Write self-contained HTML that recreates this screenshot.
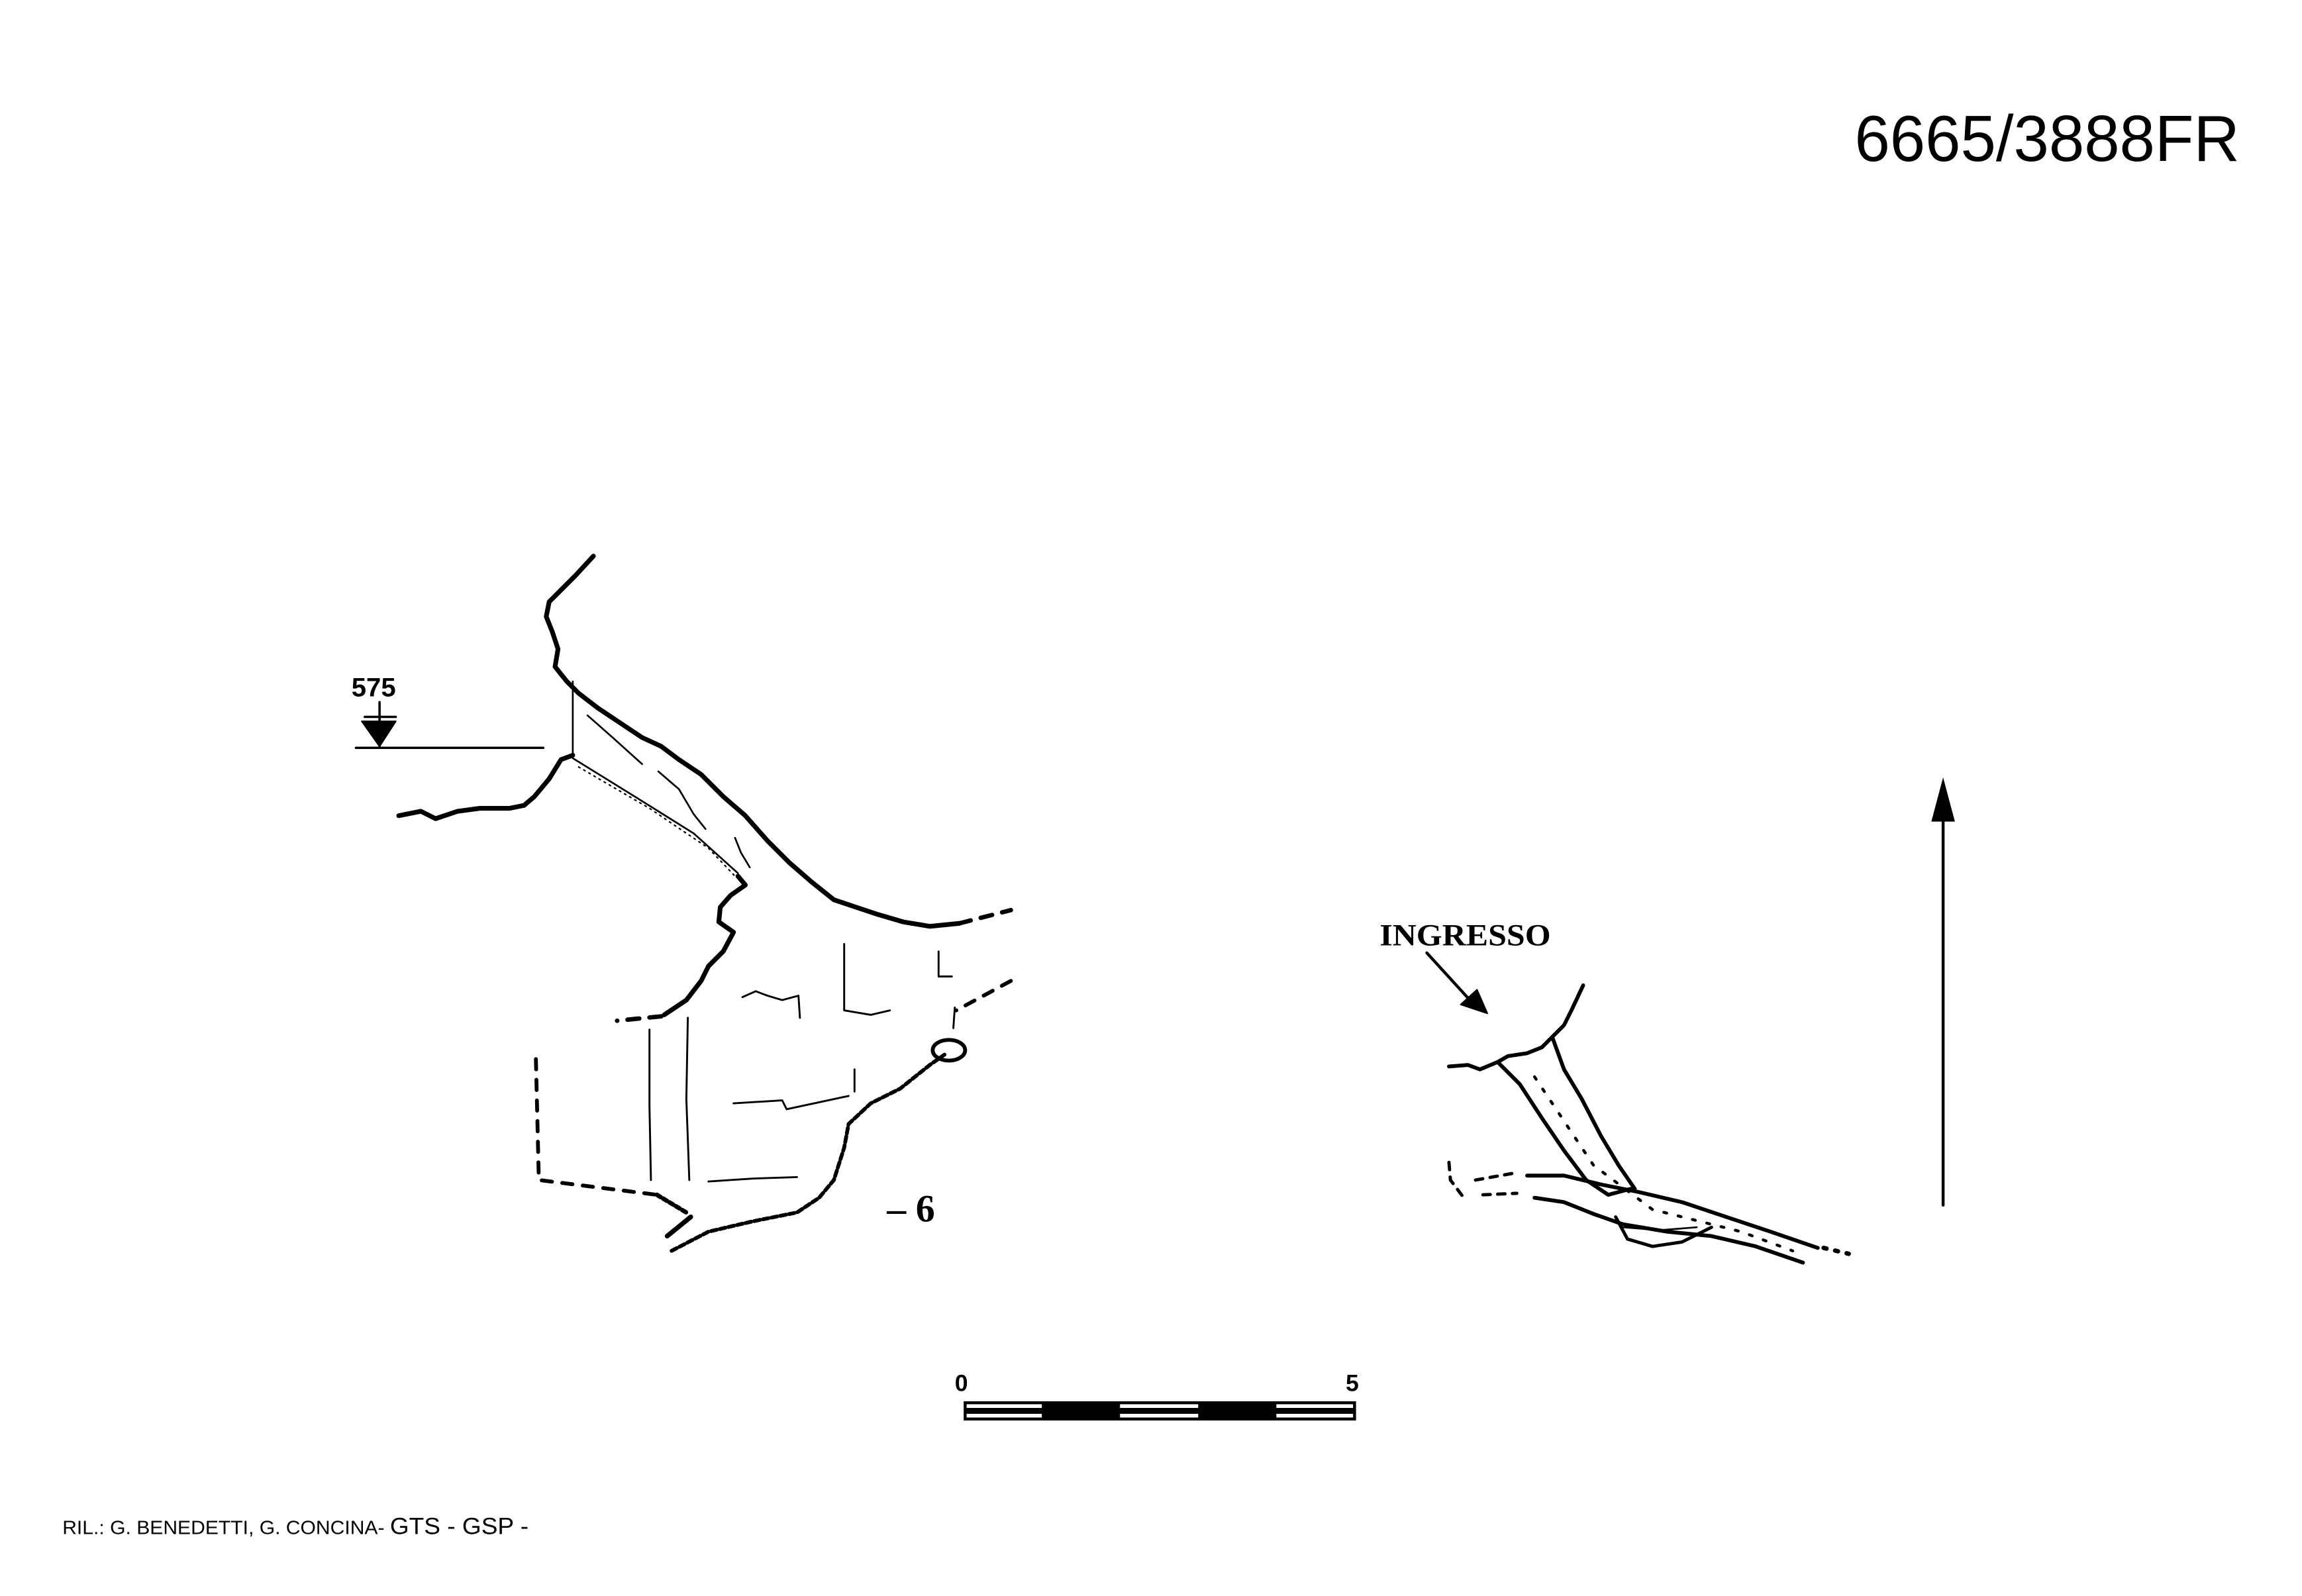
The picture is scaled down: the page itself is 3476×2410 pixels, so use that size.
<!DOCTYPE html>
<html><head><meta charset="utf-8"><style>
html,body{margin:0;padding:0;background:#fff;}
svg{display:block;}
</style></head><body>
<svg width="3476" height="2410" viewBox="0 0 1560 1082" xmlns="http://www.w3.org/2000/svg">
<rect width="1560" height="1082" fill="#fff"/>
<text x="1257" y="109" font-family="Liberation Sans, sans-serif" font-size="44" textLength="261" lengthAdjust="spacingAndGlyphs" fill="#000">6665/3888FR</text>
<g fill="none" stroke="#000" stroke-linecap="round" stroke-linejoin="round">
<polyline stroke-width="3.2" points="402,377 390,390 380,400 372,408 370,418 374,428 378,440 376,452 384,462 392,470 405,480 420,490 435,500 448,506 460,515 475,525 490,540 505,553 520,570 535,585 550,598 565,610 580,615 595,620 612,625 630,628 650,626"/>
<polyline stroke-width="3" stroke-dasharray="8,7" points="650,626 685,617"/>
<polyline stroke-width="3.2" points="270,553 285,550 295,555 310,550 325,548 345,548 355,546 362,540 372,528 380,515 388,512"/>
<polyline stroke-width="1.2" points="388,462 388,512"/>
<polyline stroke-width="1.2" points="388,514 430,540 470,565 500,592"/>
<polyline stroke-width="1" stroke-dasharray="1,3" points="392,520 440,548 480,575 498,594"/>
<polyline stroke-width="3.2" points="500,594 505,600 495,607 488,615 487,625 497,632 490,645 480,655 475,665 465,678 450,688"/>
<polyline stroke-width="3" stroke-dasharray="8,7" points="448,689 418,692"/>
<polyline stroke-width="1.2" points="398,485 415,500 435,518"/>
<polyline stroke-width="1.2" points="446,523 460,535 470,552 478,562"/>
<polyline stroke-width="1.2" points="498,568 502,578 508,588"/>
<polyline stroke-width="1.3" points="440,698 440,750 441,800"/>
<polyline stroke-width="1.3" points="466,690 465,745 467,800"/>
<polyline stroke-width="2.6" stroke-dasharray="7,7" points="363,718 365,800 445,810"/>
<polyline stroke-width="3" stroke-dasharray="3,2" points="445,810 465,822"/>
<polyline stroke-width="3.2" points="468,825 452,838"/>
<polyline stroke-width="2.6" stroke-dasharray="4,2" points="455,848 480,835 510,828 540,822 555,812 565,800 572,778 575,762 590,748 610,738 630,722 640,715"/>
<ellipse cx="643" cy="712" rx="11" ry="7" stroke-width="2.6"/>
<polyline stroke-width="2.6" stroke-dasharray="7,7" points="685,665 648,685"/>
<polyline stroke-width="1.3" points="647,683 646,697"/>
<polyline stroke-width="1.3" points="503,676 512,672 520,675 530,678 541,675 542,690"/>
<polyline stroke-width="1.3" points="572,640 572,685 590,688 603,685"/>
<polyline stroke-width="1.3" points="636,645 636,662 645,662"/>
<polyline stroke-width="1.3" points="497,748 530,746 533,752 575,743"/>
<polyline stroke-width="1.3" points="480,801 510,799 540,798"/>
<polyline stroke-width="1.3" points="579,725 579,740"/>
<line x1="241" y1="507" x2="368" y2="507" stroke-width="1.6"/>
<line x1="257" y1="476" x2="257" y2="506" stroke-width="1.6"/>
<line x1="247" y1="486" x2="268" y2="486" stroke-width="1.6"/>
<polygon points="245,489 268,489 257,506" fill="#000" stroke-width="1"/>
<polyline stroke-width="2.6" points="1073,668 1065,685 1060,695 1052,703 1045,710 1035,714 1022,716 1015,720"/>
<polyline stroke-width="2.6" points="982,723 995,722 1003,725 1015,720 1030,735 1045,758 1060,780 1075,800 1090,810 1105,806"/>
<polyline stroke-width="2.6" points="1052,703 1060,725 1072,745 1085,770 1097,790 1108,806"/>
<polyline stroke-width="2.6" points="1035,797 1060,797 1085,803 1110,808 1140,815 1170,825 1200,835 1232,846"/>
<polyline stroke-width="2.6" points="1040,812 1060,815 1080,823 1100,830 1130,835 1160,838 1190,845 1222,856"/>
<polyline stroke-width="2.2" points="1095,825 1103,840 1120,845 1140,842 1160,832"/>
<polyline stroke-width="1.2" points="1100,832 1125,834 1150,832"/>
<polyline stroke-width="2.2" stroke-dasharray="5,5" points="982,788 983,800 992,812"/>
<polyline stroke-width="2.2" stroke-dasharray="5,5" points="1000,800 1028,795"/>
<polyline stroke-width="2.2" stroke-dasharray="5,5" points="1005,810 1028,809"/>
<polyline stroke-width="3" stroke-dasharray="2,6" points="1236,846 1253,850"/>
<polyline stroke-width="2" stroke-dasharray="2,8" points="1040,730 1060,760 1080,790 1120,820 1180,835 1215,848"/>
<line x1="967" y1="646" x2="998" y2="680" stroke-width="2"/>
<polygon points="1008,687 990,681 1001,671" fill="#000" stroke-width="1"/>
<line x1="1317" y1="550" x2="1317" y2="817" stroke-width="2"/>
<polygon points="1317,527 1309,557 1325,557" fill="#000" stroke="none"/>
</g>
<text x="238" y="472" font-family="Liberation Sans, sans-serif" font-weight="bold" font-size="18" fill="#000">575</text>
<text x="935" y="641" font-family="Liberation Serif, serif" font-weight="bold" font-size="21" textLength="116" lengthAdjust="spacingAndGlyphs" fill="#000">INGRESSO</text>
<text x="601" y="828" font-family="Liberation Serif, serif" font-weight="bold" font-size="26" fill="#000">– 6</text>
<text x="647" y="943" font-family="Liberation Sans, sans-serif" font-weight="bold" font-size="16" fill="#000">0</text>
<text x="912" y="943" font-family="Liberation Sans, sans-serif" font-weight="bold" font-size="16" fill="#000">5</text>
<rect x="654" y="951" width="264" height="11" fill="#fff" stroke="#000" stroke-width="2"/>
<rect x="654" y="954.5" width="264" height="4" fill="#000"/>
<rect x="706" y="951" width="53" height="11" fill="#000"/>
<rect x="812" y="951" width="53" height="11" fill="#000"/>
<text x="42" y="1040" font-family="Liberation Sans, sans-serif" font-size="13" fill="#000" textLength="316" lengthAdjust="spacingAndGlyphs">RIL.: G. BENEDETTI, G. CONCINA- <tspan font-size="16">GTS - GSP -</tspan></text>
</svg>
</body></html>
